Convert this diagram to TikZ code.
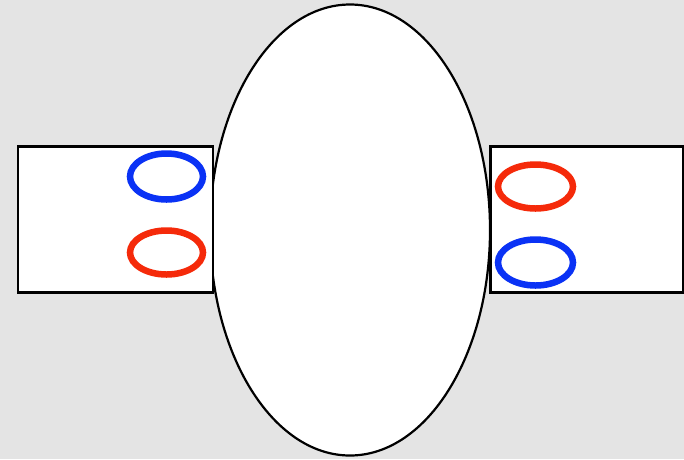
\documentclass[tikz,border=0pt]{standalone}
\usetikzlibrary{shapes.geometric}
\definecolor{bg}{HTML}{E4E4E4}
\definecolor{myblue}{HTML}{0A32F5}
\definecolor{myred}{HTML}{F52A0A}
\begin{document}
\begin{tikzpicture}[x=1pt,y=-1pt,
  outline/.style={draw=black,line width=2.2pt,fill=white,inner sep=0pt,outer sep=0pt},
  ring/.style={line width=6.5pt,ellipse,inner sep=0pt},
]
\fill[bg] (0,0) rectangle (684,459);
\useasboundingbox (0,0) rectangle (684,459);
\node[outline,ellipse,minimum width=280pt,minimum height=451pt] (mid) at (350,230) {};
\node[outline,rectangle,minimum width=195pt,minimum height=146pt,anchor=north west] (lbox) at (18,146.5) {};
\node[outline,rectangle,minimum width=193pt,minimum height=146pt,anchor=north west] (rbox) at (490.5,146.5) {};
\node[ring,draw=myblue,minimum width=73pt,minimum height=46pt] (lb) at (166.5,176.5) {};
\node[ring,draw=myred,minimum width=73pt,minimum height=44pt] (lr) at (166.5,252.5) {};
\node[ring,draw=myred,minimum width=75pt,minimum height=44pt] (rr) at (535.5,186.5) {};
\node[ring,draw=myblue,minimum width=75pt,minimum height=46pt] (rb) at (535.5,262.5) {};
\end{tikzpicture}
\end{document}
